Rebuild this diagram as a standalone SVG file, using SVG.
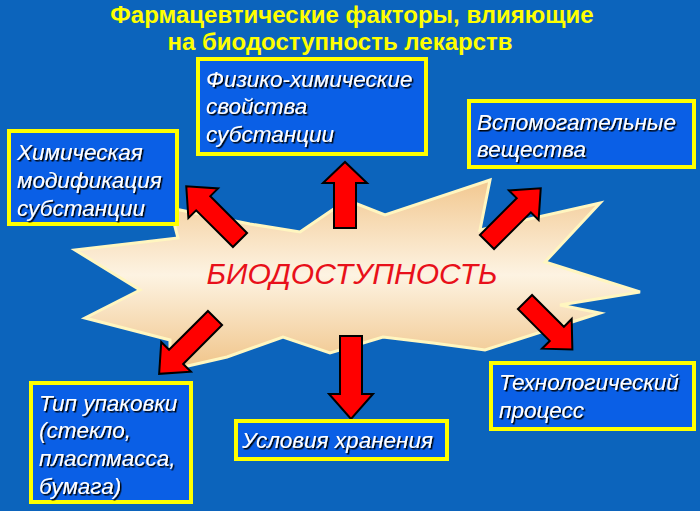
<svg xmlns="http://www.w3.org/2000/svg" width="700" height="511" viewBox="0 0 700 511">
<defs>
<linearGradient id="st" x1="0" y1="0" x2="0" y2="1"><stop offset="0" stop-color="#f2c890"/><stop offset="0.5" stop-color="#fdf3e2"/><stop offset="1" stop-color="#f0c488"/></linearGradient>
<filter id="sh"><feDropShadow dx="1.5" dy="1.5" stdDeviation="0.5" flood-color="#000"/></filter>
</defs>
<style>
.box{fill:#0a5fe6;stroke:#ffff00;stroke-width:4}
.t{font-family:"Liberation Sans",Arial,sans-serif;font-style:italic;font-size:22.5px;fill:#fff;filter:url(#sh)}
.ar{fill:#ff0000;stroke:#000;stroke-width:2;stroke-linejoin:miter}
.ti{font-family:"Liberation Sans",Arial,sans-serif;font-weight:bold;font-size:24px;fill:#ffff00;text-anchor:middle}
</style>
<rect width="700" height="511" fill="#0c64bc"/>
<text class="ti" x="352" y="23">Фармацевтические факторы, влияющие</text>
<text class="ti" x="340" y="50">на биодоступность лекарств</text>
<g id="star">
<polygon points="170,208 250,224 300,232 347,200 385,215 490,180 480,230 600,203 545,262 640,292 560,305 600,313 485,350 433,343 383,337 330,353 283,337 227,357 170,370 170,340 85,318 140,290 75,250 178,238" fill="url(#st)" stroke="#fff6c0" stroke-width="3"/>
<text x="352" y="284" font-family="Liberation Sans,Arial,sans-serif" font-style="italic" font-size="30" fill="#e8101a" text-anchor="middle">БИОДОСТУПНОСТЬ</text>
</g>
<g id="connectors">
<polygon class="ar" transform="translate(240,240) rotate(-45)" points="-10,0 -10,-52 -21,-52 0,-76 21,-52 10,-52 10,0"/>
<polygon class="ar" transform="translate(345,228) rotate(0)" points="-11,0 -11,-45 -22,-45 0,-66 22,-45 11,-45 11,0"/>
<polygon class="ar" transform="translate(487,242) rotate(45)" points="-10,0 -10,-52 -21,-52 0,-76 21,-52 10,-52 10,0"/>
<polygon class="ar" transform="translate(215,318) rotate(-135)" points="-10,0 -10,-55 -21,-55 0,-79 21,-55 10,-55 10,0"/>
<polygon class="ar" transform="translate(351,336) rotate(180)" points="-11,0 -11,-58 -22,-58 0,-83 22,-58 11,-58 11,0"/>
<polygon class="ar" transform="translate(525,302) rotate(135)" points="-10,0 -10,-45 -21,-45 0,-67 21,-45 10,-45 10,0"/>
</g>
<g id="n1"><rect class="box" x="9" y="131" width="168" height="93"/>
<text class="t" x="17" y="160">Химическая</text><text class="t" x="17" y="188">модификация</text><text class="t" x="17" y="216">субстанции</text></g>
<g id="n2"><rect class="box" x="198" y="59" width="228" height="95"/>
<text class="t" x="206" y="87">Физико-химические</text><text class="t" x="206" y="114">свойства</text><text class="t" x="206" y="142">субстанции</text></g>
<g id="n3"><rect class="box" x="469" y="101" width="225" height="66"/>
<text class="t" x="477" y="130">Вспомогательные</text><text class="t" x="477" y="157">вещества</text></g>
<g id="n4"><rect class="box" x="491" y="363" width="203" height="66"/>
<text class="t" x="499" y="390">Технологический</text><text class="t" x="499" y="418">процесс</text></g>
<g id="n5"><rect class="box" x="236" y="421" width="211" height="38"/>
<text class="t" x="242" y="448">Условия хранения</text></g>
<g id="n6"><rect class="box" x="31" y="383" width="160" height="119"/>
<text class="t" x="39" y="411">Тип упаковки</text><text class="t" x="39" y="438">(стекло,</text><text class="t" x="39" y="466">пластмасса,</text><text class="t" x="39" y="494">бумага)</text></g>
</svg>
